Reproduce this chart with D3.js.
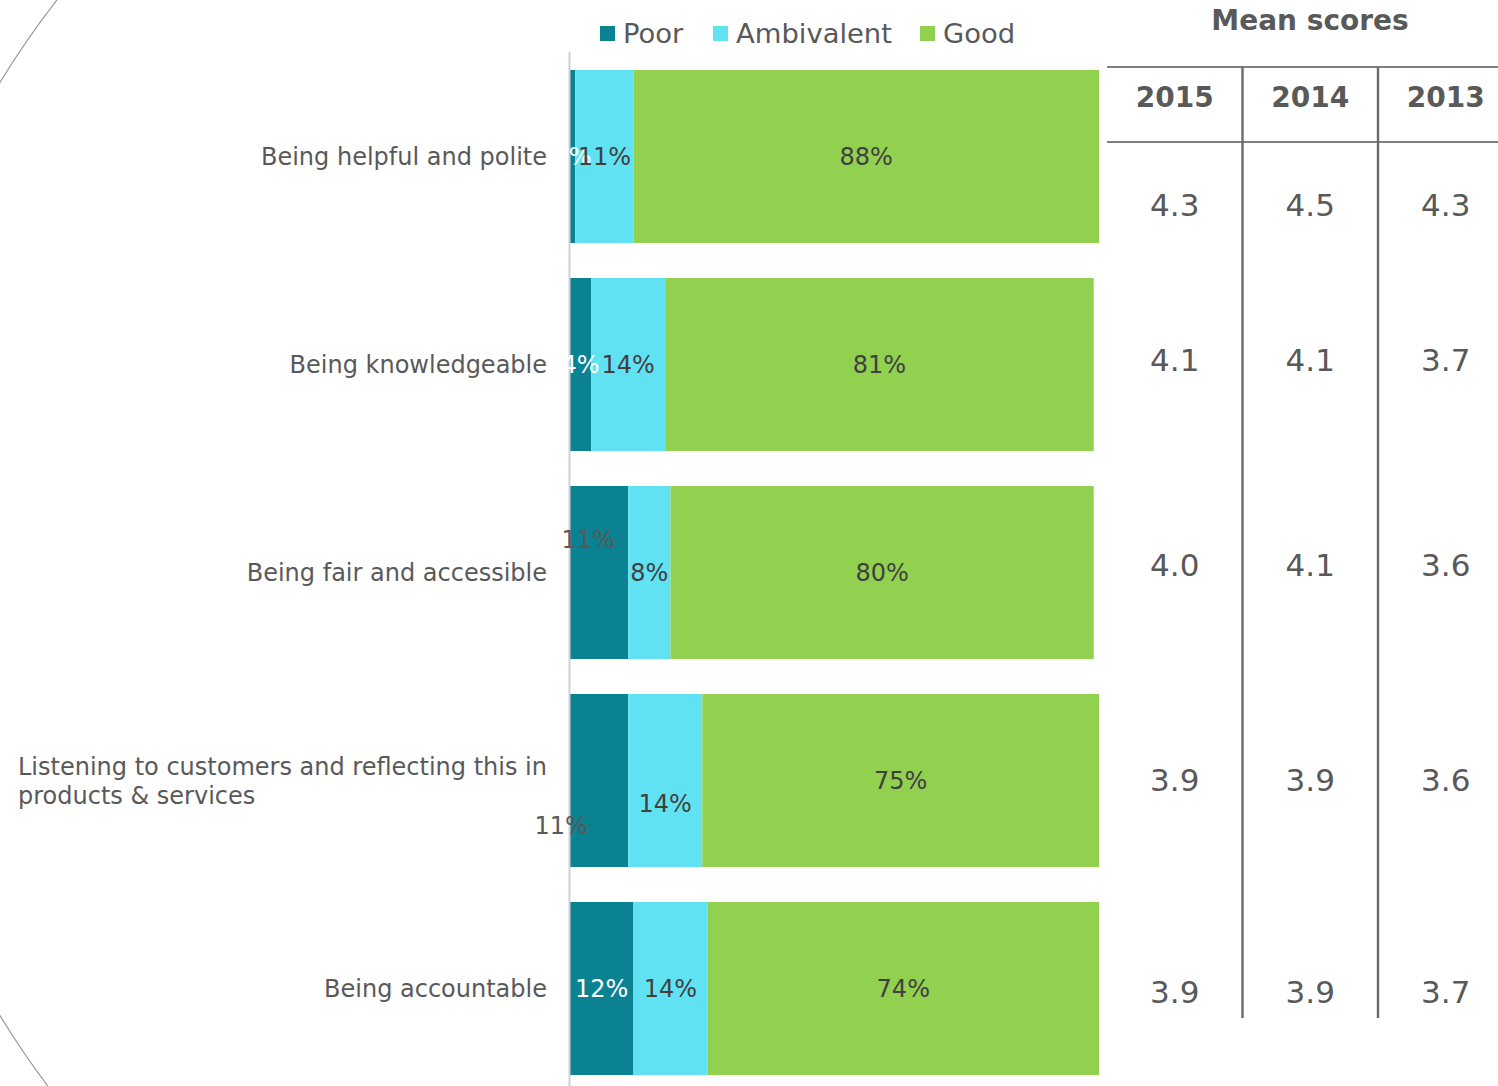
<!DOCTYPE html>
<html>
<head>
<meta charset="utf-8">
<script src="https://cdn.jsdelivr.net/npm/d3@7"></script>
<style>
  html, body { margin: 0; padding: 0; background: #ffffff; }
  svg { display: block; font-family: "DejaVu Sans", Verdana, sans-serif; }
</style>
</head>
<body>
<svg id="chart" width="1498" height="1086"></svg>
<script>
// ---------- data ----------
const categories = [
  "Being helpful and polite",
  "Being knowledgeable",
  "Being fair and accessible",
  "Listening to customers and reflecting this in products & services",
  "Being accountable"
];
const seriesNames = ["Poor", "Ambivalent", "Good"];
const poor       = [1, 4, 11, 11, 12];
const ambivalent = [11, 14, 8, 14, 14];
const good       = [88, 81, 80, 75, 74];

const years = ["2015", "2014", "2013"];
const mean2015 = [4.3, 4.1, 4.0, 3.9, 3.9];
const mean2014 = [4.5, 4.1, 4.1, 3.9, 3.9];
const mean2013 = [4.3, 3.7, 3.6, 3.6, 3.7];

// ---------- layout / style ----------
const colors = ["#0b8291", "#61e2f2", "#92d050"];
const labelColors = ["#ffffff", "#404040", "#404040"];
// manual label nudges (dx, dy in px) per [series][category]
const labelNudge = [
  [[0,0],[0,0],[-11,-33],[-38,45],[0,0]],
  [[0,0],[0,0],[0,0],[0,23],[0,0]],
  [[0,0],[0,0],[0,0],[0,0],[0,0]]
];
const poorNudgedColor = "#595959";
const tableRowY = [205, 360, 565, 780, 992];

const svg = d3.select("#chart");
const W = 1498, H = 1086;

// decorative arc on the left edge
const arcPath = d3.path();
arcPath.arc(765, 549, 896, 2.45, 3.85, false);
svg.append("path").attr("d", arcPath.toString())
  .attr("fill", "none").attr("stroke", "#9a9a9a").attr("stroke-width", 1.2);

const x = d3.scaleLinear().domain([0, 100]).range([570, 1099]);
const y = d3.scaleBand().domain(categories).range([52.5, 1092.5])
  .paddingInner(0.168).paddingOuter(0.084);

const table = categories.map((c, i) => ({cat: c, Poor: poor[i], Ambivalent: ambivalent[i], Good: good[i]}));
const stacked = d3.stack().keys(seriesNames)(table);

// bars
const layers = svg.append("g").selectAll("g").data(stacked).join("g")
  .attr("fill", (d, i) => colors[i]);
layers.selectAll("rect").data(d => d).join("rect")
  .attr("x", d => x(d[0]))
  .attr("width", d => x(d[1]) - x(d[0]))
  .attr("y", d => y(d.data.cat))
  .attr("height", y.bandwidth());

// axis line
svg.append("line")
  .attr("x1", 569.5).attr("x2", 569.5).attr("y1", 52).attr("y2", H)
  .attr("stroke", "#d0d0d0").attr("stroke-width", 2);

// data labels
stacked.forEach((layer, si) => {
  svg.append("g").selectAll("text").data(layer).join("text")
    .attr("x", (d, ci) => (x(d[0]) + x(d[1])) / 2 + labelNudge[si][ci][0])
    .attr("y", (d, ci) => y(d.data.cat) + y.bandwidth() / 2 + labelNudge[si][ci][1])
    .attr("dy", "0.36em")
    .attr("text-anchor", "middle")
    .attr("font-size", 24)
    .attr("fill", (d, ci) => (si === 0 && (labelNudge[si][ci][0] !== 0 || labelNudge[si][ci][1] !== 0)) ? poorNudgedColor : labelColors[si])
    .text(d => (d[1] - d[0]) + "%");
});

// category labels
const catG = svg.append("g").attr("font-size", 24).attr("fill", "#595959");
categories.forEach((c, i) => {
  const cy = y(c) + y.bandwidth() / 2;
  if (c.length > 40) {
    const lines = ["Listening to customers and reflecting this in", "products & services"];
    const t = catG.append("text").attr("x", 18).attr("y", cy - 14.5);
    lines.forEach((ln, k) => {
      t.append("tspan").attr("x", 18).attr("dy", k === 0 ? "0.36em" : 29).text(ln);
    });
  } else {
    catG.append("text").attr("x", 547).attr("y", cy).attr("dy", "0.36em")
      .attr("text-anchor", "end").text(c);
  }
});

// legend
const legendX = [600, 713, 920];
const lg = svg.append("g");
seriesNames.forEach((s, i) => {
  lg.append("rect").attr("x", legendX[i]).attr("y", 26).attr("width", 15).attr("height", 15).attr("fill", colors[i]);
  lg.append("text").attr("x", legendX[i] + 23).attr("y", 43).attr("font-size", 27.4).attr("fill", "#595959").text(s);
});

// mean score table
const colX = d3.scaleBand().domain(years).range([1107, 1513.5]);
svg.append("text").attr("x", 1310).attr("y", 30).attr("text-anchor", "middle")
  .attr("font-size", 28).attr("font-weight", "bold").attr("fill", "#595959").text("Mean scores");
[67, 142].forEach(yy => {
  svg.append("line").attr("x1", 1107).attr("x2", W).attr("y1", yy).attr("y2", yy)
    .attr("stroke", "#7f7f7f").attr("stroke-width", 2.2);
});
[years[1], years[2]].forEach(yr => {
  svg.append("line").attr("x1", colX(yr)).attr("x2", colX(yr)).attr("y1", 67).attr("y2", 1018)
    .attr("stroke", "#6a6a6a").attr("stroke-width", 2.4);
});
years.forEach(yr => {
  svg.append("text").attr("x", colX(yr) + colX.bandwidth() / 2).attr("y", 107)
    .attr("text-anchor", "middle").attr("font-size", 28).attr("font-weight", "bold")
    .attr("fill", "#595959").text(yr);
});
const means = [mean2015, mean2014, mean2013];
years.forEach((yr, j) => {
  svg.append("g").selectAll("text").data(means[j]).join("text")
    .attr("x", colX(yr) + colX.bandwidth() / 2)
    .attr("y", (d, i) => tableRowY[i])
    .attr("dy", "0.36em")
    .attr("text-anchor", "middle").attr("font-size", 31).attr("fill", "#595959")
    .text(d => d.toFixed(1));
});
</script>
</body>
</html>
